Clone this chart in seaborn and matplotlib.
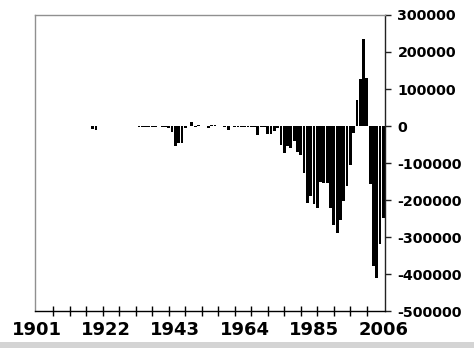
import matplotlib
matplotlib.use("Agg")
import matplotlib.pyplot as plt
from matplotlib.patches import Rectangle
import seaborn as sns
import pandas as pd

years = list(range(1901, 2007))
values = [
    -400, -400, -400, -400, 0, -400, -400, -400, 0, 0,          # 1901-1910
    0, 0, 0, 0, 0, 0, -1000, -8000, -12000, -1000,              # 1911-1920
    -1000, -1000, -1000, -1000, -1000, -1000, -1000, -1000, -1000, -1000,  # 1921-1930
    -1000, -2500, -2500, -2500, -2500, -2500, -2500, -1000, -2000, -4000,  # 1931-1940
    -5000, -17000, -53000, -47000, -47000, -5000, 0, 10000, -2000, 2500,   # 1941-1950
    0, -1000, -4500, 2000, 2000, -1000, -1000, -3000, -10000, -1000,       # 1951-1960
    -3000, -3000, -3000, -4000, -3000, -4000, -4000, -24000, -1500, -2000, # 1961-1970
    -22000, -22000, -13000, -6000, -51000, -74000, -55000, -60000, -40000, -69000,  # 1971-1980
    -78000, -128000, -208000, -188000, -212000, -221000, -152000, -155000, -153000, -221000,  # 1981-1990
    -268000, -290000, -254000, -202000, -163000, -106000, -20000, 70000, 126000, 236000,     # 1991-2000
    129000, -158000, -378000, -412000, -319000, -248000,        # 2001-2006
]
label_years = [1901, 1922, 1943, 1964, 1985, 2006]
y_ticks = [-500000, -400000, -300000, -200000, -100000, 0, 100000, 200000, 300000]

df = pd.DataFrame({"year": years, "value": values})

sns.set_theme(style="white")
plt.rcParams["font.family"] = ["DejaVu Sans"]
plt.rcParams["text.color"] = "black"
plt.rcParams["xtick.color"] = "black"
plt.rcParams["ytick.color"] = "black"

fig, ax = plt.subplots(figsize=(4.74, 3.48), dpi=100)
fig.subplots_adjust(left=0.0738, right=0.8122, bottom=0.1063, top=0.9569)

sns.barplot(data=df, x="year", y="value", color="black", saturation=1,
            width=0.85, errorbar=None, linewidth=0, edgecolor="none", ax=ax)

ax.set_xlim(-0.5, len(years) - 0.5)
ax.set_ylim(y_ticks[0], y_ticks[-1])

major_pos = [years.index(y) for y in label_years]
ax.set_xticks(major_pos)
ax.set_xticklabels([str(y) for y in label_years])
ax.set_xticks(list(range(0, len(years), 5)), minor=True)
ax.tick_params(axis="x", which="major", length=0, pad=7, labelsize=13, bottom=True)
ax.tick_params(axis="x", which="minor", direction="inout", length=7, width=1,
               color="black", bottom=True)
for lab in ax.get_xticklabels():
    lab.set_fontweight("bold")

ax.yaxis.tick_right()
ax.set_yticks(y_ticks)
ax.set_yticklabels([str(v) for v in y_ticks])
ax.tick_params(axis="y", which="major", direction="out", length=4, width=1,
               pad=5, labelsize=10.3, right=True, left=False, color="#222222")
for lab in ax.get_yticklabels():
    lab.set_fontweight("bold")

ax.set_xlabel("")
ax.set_ylabel("")

for side in ["left", "top"]:
    ax.spines[side].set_color("#909090")
    ax.spines[side].set_linewidth(1)
ax.spines["right"].set_color("#222222")
ax.spines["right"].set_linewidth(1)
ax.spines["bottom"].set_color("black")
ax.spines["bottom"].set_linewidth(1)

fig.patches.append(Rectangle((0, 0), 1, 6 / 348, transform=fig.transFigure,
                             facecolor="#d4d4d4", edgecolor="none", zorder=-1))

fig.savefig("out.png", dpi=100)
